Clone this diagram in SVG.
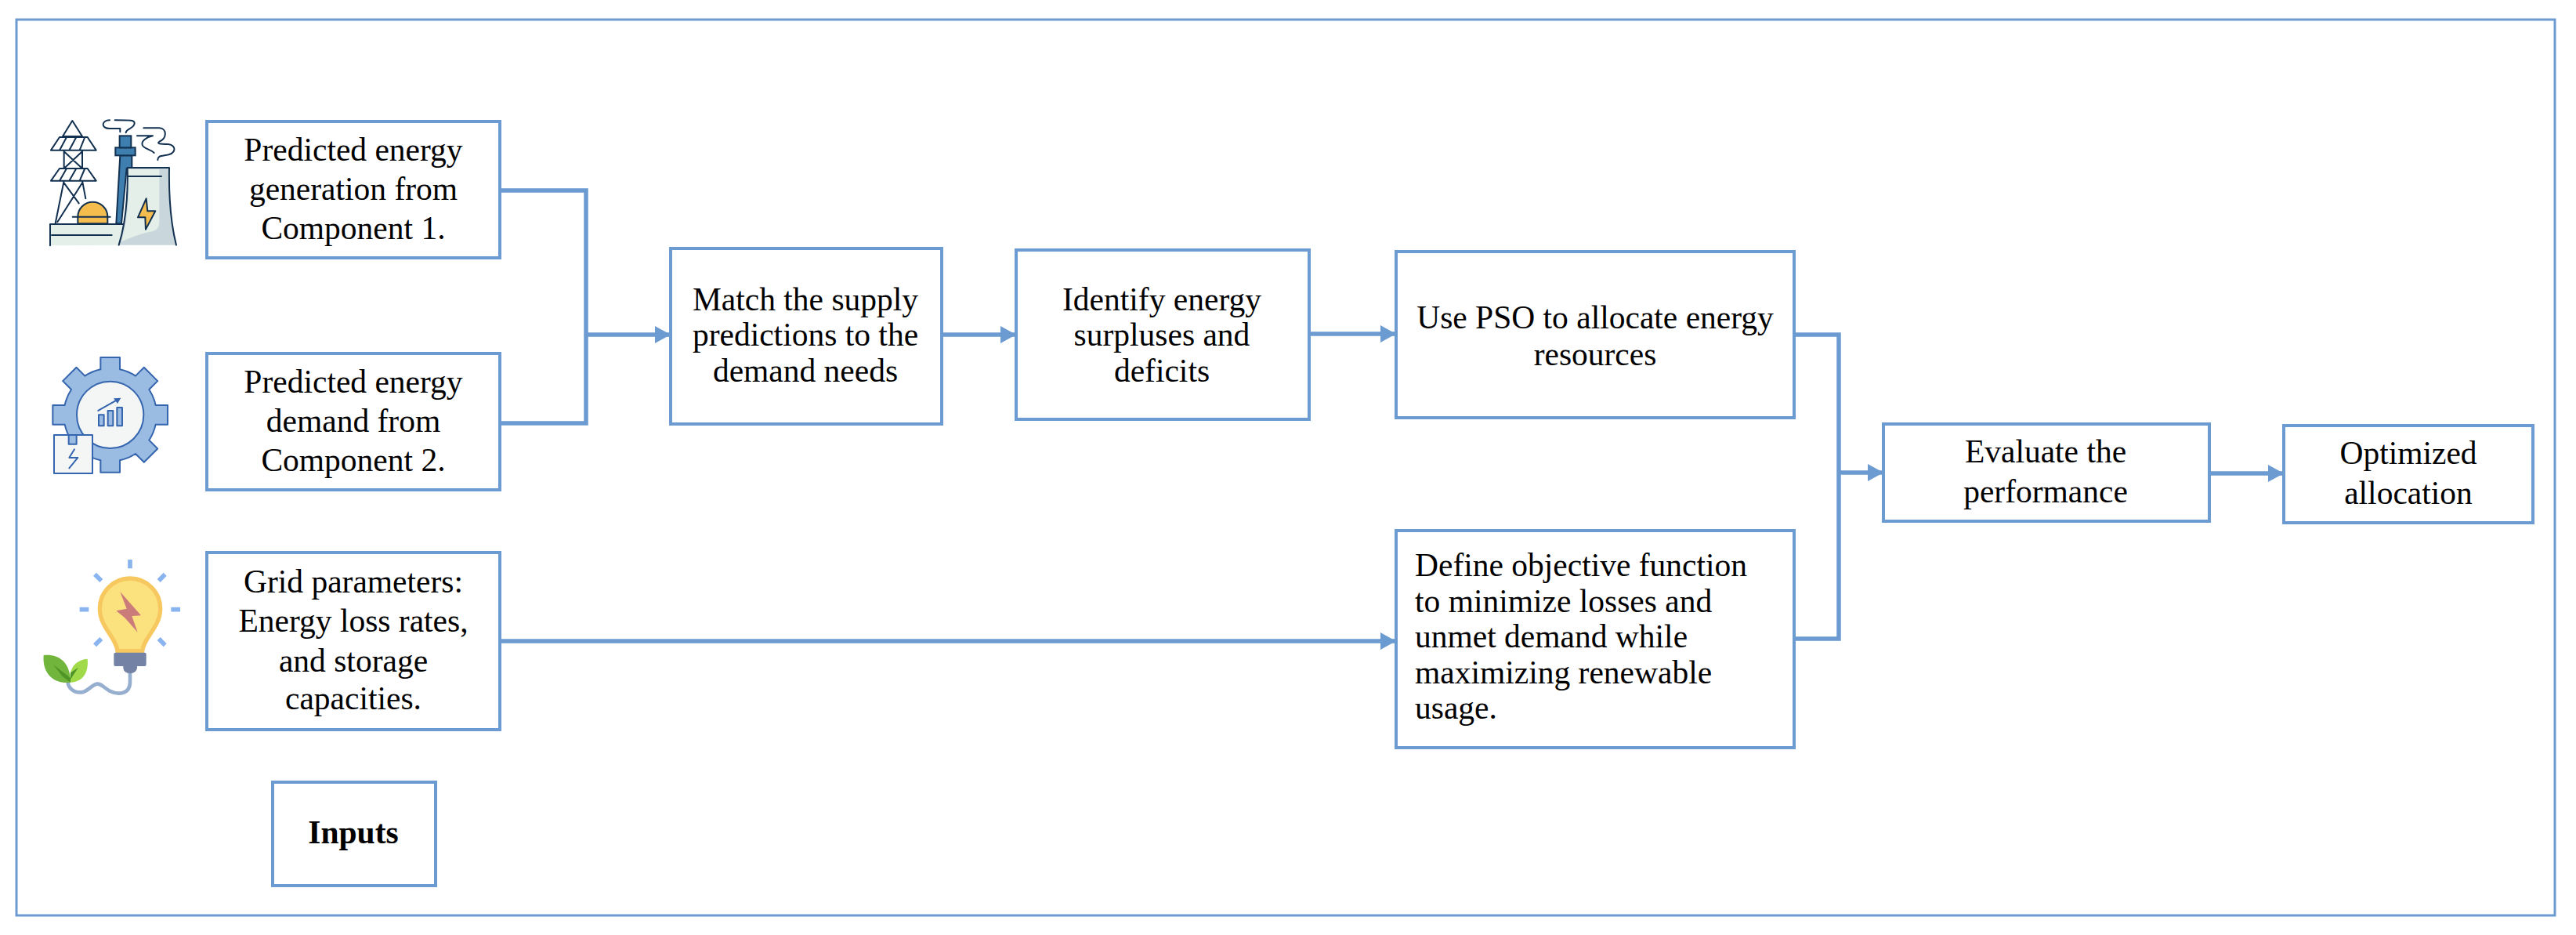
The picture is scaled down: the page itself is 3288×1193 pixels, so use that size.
<svg xmlns="http://www.w3.org/2000/svg" width="3288" height="1193" viewBox="0 0 3288 1193">
<style>
.box{fill:#fff;stroke:#6C9BD2;stroke-width:4}
.t{font-family:"Liberation Serif","Times New Roman",serif;font-size:41.5px;fill:#000;text-anchor:middle}
.l{text-anchor:start}
.c{fill:none;stroke:#6C9BD2;stroke-width:5.5}
.d{fill:none;stroke:#12304F;stroke-width:6;stroke-linejoin:round;stroke-linecap:round}
.g{stroke:#3565AE;stroke-width:6;stroke-linejoin:round;stroke-linecap:round}
</style>
<defs>
<marker id="a" markerUnits="userSpaceOnUse" markerWidth="22" markerHeight="24" refX="20" refY="12" orient="auto"><path d="M0,1L20,12L0,23Z" fill="#6C9BD2"/></marker>
</defs>
<rect width="3288" height="1193" fill="#fff"/>
<rect id="frame" x="21" y="25" width="3240" height="1143" fill="none" stroke="#6C9BD2" stroke-width="3"/>
<g id="icon-plant" transform="translate(40,140) scale(.3333)">
<path d="M325,436L340,175H385V225H365L345,436Z" fill="#3F7FB0" stroke="#12304F" stroke-width="6"/>
<rect x="322" y="145" width="76" height="30" fill="#3F7FB0" stroke="#12304F" stroke-width="6"/>
<rect x="338" y="100" width="44" height="45" fill="#3F7FB0" stroke="#12304F" stroke-width="6"/>
<path d="M72,520V438H350L335,518Z" fill="#E4EFE9"/>
<path class="d" d="M72,520V438H350M78,480H308"/>
<path d="M178,436V410A57,57 0 0 1 292,410V436Z" fill="#F4BD4E" stroke="#12304F" stroke-width="6"/>
<path class="d" d="M158,410H302"/>
<path d="M335,518Q372,400 368,222H528Q525,400 555,518Z" fill="#C9D7DC"/>
<path d="M345,505Q378,400 372,228H490Q490,400 490,430Q490,465 450,468Q400,480 345,505Z" fill="#E4EFE9"/>
<path class="d" d="M335,518Q372,400 368,222H528Q525,400 555,518M372,255H498"/>
<path d="M440,340L408,412H436L438,458L475,388H445Z" fill="#F4BD4E" stroke="#12304F" stroke-width="6" stroke-linejoin="round"/>
<path class="d" d="M157,42L120,102H195ZM75,155L108,105H215L248,155ZM108,155L135,105M145,155L172,105M185,155L205,105M125,155V225M195,155V225M125,160L195,225M195,160L125,225M75,272L108,225H215L248,272ZM108,272L135,225M145,272L172,225M185,272L205,225M125,272L92,435M195,272L208,340M125,280L182,358M195,280L100,430"/>
<path class="d" d="M362,88C362,72 395,72 395,52C395,40 385,40 320,40M300,40C268,40 265,72 300,72H340V85M430,70H490C520,72 520,110 490,122C480,130 490,132 525,132C555,135 560,170 510,175C490,178 484,180 484,192M405,100H465C440,105 420,120 425,135C430,150 455,150 470,165"/>
</g>
<g id="icon-gear" transform="translate(50,440) scale(.3333)">
<path transform="translate(272,268)" fill="#9ABBE2" class="g" d="M-37,-174L-37,-220H37L37,-174A178,178 0 0 1 97,-149L129.5,-181.5L181.5,-129.5L149,-97A178,178 0 0 1 174,-37H220V37H174A178,178 0 0 1 149,97L181.5,129.5L129.5,181.5L97,149A178,178 0 0 1 37,174V220H-37V174A178,178 0 0 1 -97,149L-129.5,181.5L-181.5,129.5L-149,97A178,178 0 0 1 -174,37H-220V-37H-174A178,178 0 0 1 -149,-97L-181.5,-129.5L-129.5,-181.5L-97,-149A178,178 0 0 1 -37,-174Z"/>
<circle cx="272" cy="268" r="128" fill="#F4F6F6" class="g"/>
<rect x="57" y="345" width="147" height="147" fill="#F4F6F6" class="g"/>
<rect x="113" y="345" width="30" height="35" fill="#9ABBE2" class="g"/>
<path d="M135,400L115,432H148L115,472" fill="none" class="g"/>
<rect x="228" y="268" width="20" height="42" fill="#9ABBE2" class="g"/>
<rect x="263" y="252" width="20" height="58" fill="#9ABBE2" class="g"/>
<rect x="298" y="240" width="20" height="70" fill="#9ABBE2" class="g"/>
<path d="M226,252L295,213" fill="none" class="g"/>
<path d="M285,205L313,203L300,225Z" fill="#3565AE"/>
</g>
<g id="icon-bulb" transform="translate(40,710) scale(.3333)">
<path d="M378,445V480C378,530 330,530 300,515C275,500 265,485 250,488C225,495 215,520 190,520C160,522 140,500 140,480" fill="none" stroke="#97AFCF" stroke-width="14"/>
<path d="M330,362C325,310 262,270 262,200A116,116 0 0 1 494,200C494,270 430,310 425,362Z" fill="#FBE27E" stroke="#F7C860" stroke-width="16"/>
<path d="M340,135L420,226L385,228L407,290L358,235L325,208L365,200Z" fill="#CC7B7B"/>
<rect x="316" y="368" width="124" height="52" rx="6" fill="#7483A5"/>
<path d="M352,420H405V428Q400,447 378,447Q356,447 352,428Z" fill="#7483A5"/>
<path d="M47,378C100,372 150,400 150,482C100,490 40,460 47,378Z" fill="#72B53D"/>
<path d="M150,482C140,430 170,395 215,392C220,440 200,480 150,482Z" fill="#A0DA4B"/>
<path d="M85,415L150,465V482L118,458ZM180,425L150,470V445Z" fill="#4F9426"/>
<path d="M378,12V46M243,68L268,93M512,68L488,93M185,203H220M535,203H570M243,340L268,315M512,340L488,315" fill="none" stroke="#8AB4F0" stroke-width="17"/>
</g>
<g id="connectors">
<path class="c" d="M638,243H748V540H638"/>
<path class="c" d="M748,427H856" marker-end="url(#a)"/>
<path class="c" d="M1202,427H1297" marker-end="url(#a)"/>
<path class="c" d="M1671,426H1782" marker-end="url(#a)"/>
<path class="c" d="M638,818H1782" marker-end="url(#a)"/>
<path class="c" d="M2290,427H2347V815H2290"/>
<path class="c" d="M2347,603H2404" marker-end="url(#a)"/>
<path class="c" d="M2820,604H2915" marker-end="url(#a)"/>
</g>
<g id="n1"><rect class="box" x="264" y="155" width="374" height="174"/><text class="t"><tspan x="451" y="205">Predicted energy</tspan><tspan x="451" y="255">generation from</tspan><tspan x="451" y="305">Component 1.</tspan></text></g>
<g id="n2"><rect class="box" x="264" y="451" width="374" height="174"/><text class="t"><tspan x="451" y="501">Predicted energy</tspan><tspan x="451" y="551">demand from</tspan><tspan x="451" y="601">Component 2.</tspan></text></g>
<g id="n3"><rect class="box" x="264" y="705" width="374" height="226"/><text class="t"><tspan x="451" y="756">Grid parameters:</tspan><tspan x="451" y="806">Energy loss rates,</tspan><tspan x="451" y="857">and storage</tspan><tspan x="451" y="905">capacities.</tspan></text></g>
<g id="inputs"><rect class="box" x="348" y="998" width="208" height="132"/><text class="t" x="451" y="1076" font-weight="bold">Inputs</text></g>
<g id="n4"><rect class="box" x="856" y="317" width="346" height="224"/><text class="t"><tspan x="1028" y="396">Match the supply</tspan><tspan x="1028" y="441">predictions to the</tspan><tspan x="1028" y="487">demand needs</tspan></text></g>
<g id="n5"><rect class="box" x="1297" y="319" width="374" height="216"/><text class="t"><tspan x="1483" y="396">Identify energy</tspan><tspan x="1483" y="441">surpluses and</tspan><tspan x="1483" y="487">deficits</tspan></text></g>
<g id="n6"><rect class="box" x="1782" y="321" width="508" height="212"/><text class="t"><tspan x="2036" y="419">Use PSO to allocate energy</tspan><tspan x="2036" y="466">resources</tspan></text></g>
<g id="n7"><rect class="box" x="1782" y="677" width="508" height="277"/><text class="t l"><tspan x="1806" y="735">Define objective function</tspan><tspan x="1806" y="781">to minimize losses and</tspan><tspan x="1806" y="826">unmet demand while</tspan><tspan x="1806" y="872">maximizing renewable</tspan><tspan x="1806" y="917">usage.</tspan></text></g>
<g id="n8"><rect class="box" x="2404" y="541" width="416" height="124"/><text class="t"><tspan x="2611" y="590">Evaluate the</tspan><tspan x="2611" y="641">performance</tspan></text></g>
<g id="n9"><rect class="box" x="2915" y="543" width="318" height="124"/><text class="t"><tspan x="3074" y="592">Optimized</tspan><tspan x="3074" y="643">allocation</tspan></text></g>
</svg>
